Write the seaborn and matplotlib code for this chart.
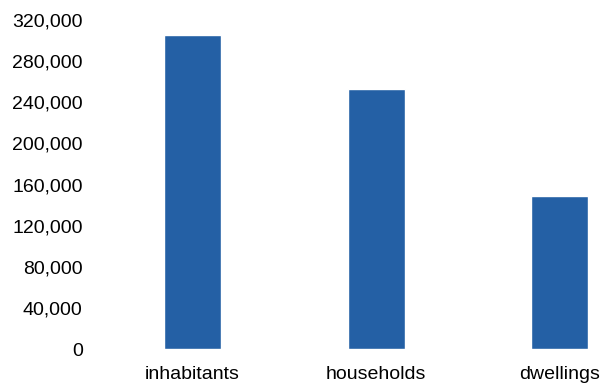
import matplotlib
matplotlib.use("Agg")
import matplotlib.pyplot as plt
import seaborn as sns
import pandas as pd
from matplotlib.ticker import FuncFormatter

categories = ["inhabitants", "households", "dwellings"]
counts = [305000, 253000, 148500]
y_ticks = [0, 40000, 80000, 120000, 160000, 200000, 240000, 280000, 320000]

df = pd.DataFrame({"category": categories, "count": counts})

sns.set_theme(style="white")
plt.rcParams["font.family"] = ["Liberation Sans", "DejaVu Sans"]

fig = plt.figure(figsize=(6.01, 3.83), dpi=100)
ax = fig.add_axes([100.7 / 601, 34 / 383, (601 - 100.7) / 601, 329 / 383])

sns.barplot(data=df, x="category", y="count", color="#2460A5",
            width=0.31, saturation=1, ax=ax)

ax.set_xlim(-0.5, (601 - 192.5) / 183.6)
ax.set_ylim(0, 320000)
ax.set_yticks(y_ticks)
ax.yaxis.set_major_formatter(FuncFormatter(lambda v, p: f"{int(v):,}"))
ax.set_xlabel("")
ax.set_ylabel("")
for s in ax.spines.values():
    s.set_visible(False)
ax.tick_params(axis="y", length=0, pad=13, labelsize=14, labelcolor="#000000")
ax.tick_params(axis="x", length=0, pad=12.5, labelsize=14, labelcolor="#000000")
ax.grid(False)

fig.savefig("out.png", dpi=100)
